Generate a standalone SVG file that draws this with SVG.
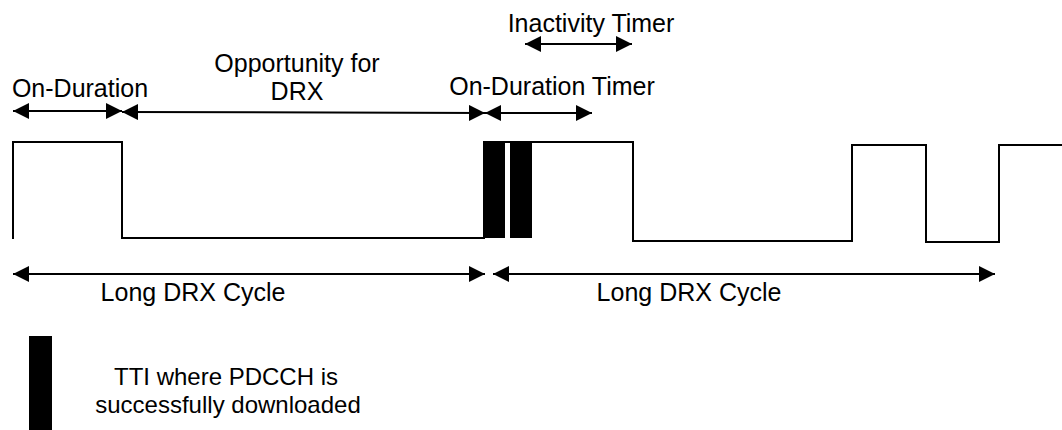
<svg xmlns="http://www.w3.org/2000/svg" width="1062" height="430" viewBox="0 0 1062 430">
<style>
.t{font-family:"Liberation Sans",Arial,sans-serif;font-size:25px;fill:#000;text-anchor:middle}
.s{font-size:24px}
.a{stroke:#000;stroke-width:2;fill:none;marker-start:url(#ah);marker-end:url(#ah)}
.w{stroke:#000;stroke-width:2;fill:none}
.b{fill:#000}
</style>
<defs>
<marker id="ah" markerUnits="userSpaceOnUse" markerWidth="16" markerHeight="16" refX="16" refY="8" orient="auto-start-reverse" viewBox="0 0 16 16">
<path d="M0,0 L16,8 L0,16 z" fill="#000"/>
</marker>
</defs>
<rect width="1062" height="430" fill="#fff"/>
<g id="signal">
<path class="w" d="M13,239 V142 H122 V238 H484 V142 H633 V241 H852 V145 H926 V242 H999 V145 H1062"/>
<rect class="b" x="484" y="142" width="21" height="96"/>
<rect class="b" x="510" y="142" width="22" height="96"/>
</g>
<g id="connectors">
<line class="a" x1="13" y1="111" x2="122" y2="111"/>
<line class="a" x1="122" y1="112" x2="485" y2="113"/>
<line class="a" x1="485" y1="113" x2="592" y2="113"/>
<line class="a" x1="525" y1="44" x2="632" y2="44"/>
<line class="a" x1="13" y1="274" x2="485" y2="274"/>
<line class="a" x1="493" y1="274" x2="995" y2="274"/>
</g>
<g id="labels">
<text class="t" x="80" y="97">On-Duration</text>
<text class="t" x="297" y="72">Opportunity for</text>
<text class="t" x="297" y="100">DRX</text>
<text class="t" x="552" y="95">On-Duration Timer</text>
<text class="t" x="591" y="32">Inactivity Timer</text>
<text class="t" x="193" y="301">Long DRX Cycle</text>
<text class="t" x="689" y="301">Long DRX Cycle</text>
</g>
<g id="legend">
<rect class="b" x="29" y="336" width="23" height="94"/>
<text class="t s" x="226" y="385">TTI where PDCCH is</text>
<text class="t s" x="228" y="413">successfully downloaded</text>
</g>
</svg>
